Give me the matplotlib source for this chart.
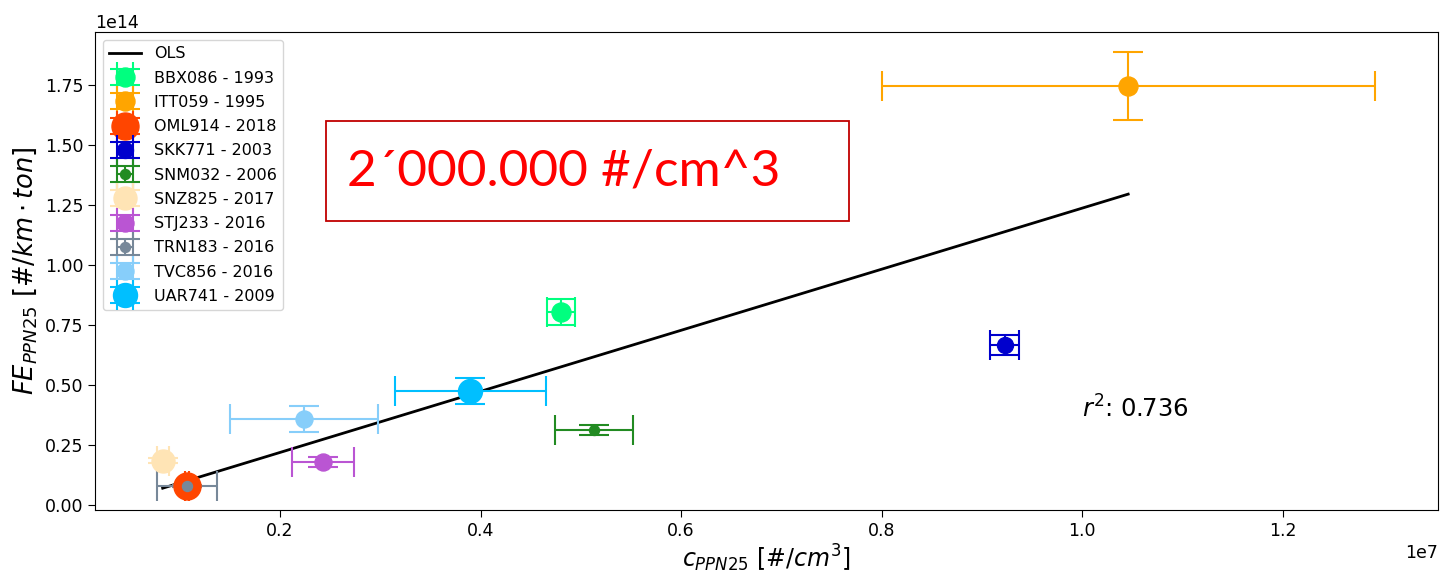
import numpy as np
import matplotlib
matplotlib.use("Agg")
import matplotlib.pyplot as plt
from matplotlib.patches import Rectangle

# ---- data ----
labels = ['BBX086 - 1993', 'ITT059 - 1995', 'OML914 - 2018', 'SKK771 - 2003',
          'SNM032 - 2006', 'SNZ825 - 2017', 'STJ233 - 2016', 'TRN183 - 2016',
          'TVC856 - 2016', 'UAR741 - 2009']
x_vals = [4.80e6, 1.046e7, 1.075e6, 9.23e6, 5.13e6, 8.3e5, 2.43e6, 1.075e6, 2.24e6, 3.90e6]
y_vals = [8.04e13, 1.745e14, 7.8e12, 6.67e13, 3.12e13, 1.85e13, 1.80e13, 7.8e12, 3.58e13, 4.75e13]
x_err = [1.4e5, 2.46e6, 2e4, 1.45e5, 3.9e5, 6e4, 3.1e5, 3.0e5, 7.35e5, 7.5e5]
y_err = [5.3e12, 1.42e13, 5e11, 4.0e12, 2.2e12, 1.0e12, 2.1e12, 5e11, 5.3e12, 5.5e12]
colors = ['springgreen', 'orange', 'orangered', 'mediumblue', 'forestgreen',
          'moccasin', 'mediumorchid', 'lightslategray', 'lightskyblue', 'deepskyblue']
r2_text = r'$r^2$: 0.736'
note_text = '2\u00b4000.000 #/cm^3'

DPI = 100
fig = plt.figure(figsize=(1445 / DPI, 573 / DPI), dpi=DPI)
ax = fig.add_axes([95 / 1445, 1 - 510 / 573, (1438 - 95) / 1445, (510 - 32) / 573])

# marker diameters in pixels -> points
marker_px = [19, 19, 27, 16, 10, 23, 17, 10, 17, 24]

x = np.array(x_vals)
y = np.array(y_vals)
coef = np.polyfit(x, y, 1)
order = np.argsort(x)
ax.plot(x[order], np.polyval(coef, x[order]), color='black', lw=2.0, label='OLS')

for i, lab in enumerate(labels):
    ax.errorbar(x_vals[i], y_vals[i], xerr=x_err[i], yerr=y_err[i], fmt='o',
                color=colors[i], ecolor=colors[i], markersize=marker_px[i] * 72 / DPI,
                capsize=11, elinewidth=1.5, capthick=1.5, label=lab)

ax.set_xlim(0.0155e7, 1.355e7)
ax.set_ylim(-0.021e14, 1.971e14)
ax.tick_params(labelsize=12.5, length=5)
ax.xaxis.get_offset_text().set_fontsize(12.5)
ax.yaxis.get_offset_text().set_fontsize(12.5)
ax.set_xlabel(r'$c_{PPN25}$ [$\#/cm^3$]', fontsize=17, labelpad=2)
ax.set_ylabel(r'$FE_{PPN25}$ [$\#/km \cdot ton$]', fontsize=18.5, labelpad=4)

ax.text(1.0e7, 0.40e14, r2_text, fontsize=17.5, va='center', ha='left')

ax.legend(loc='upper left', fontsize=11.5, borderaxespad=0.5, handlelength=2.0,
          labelspacing=0.58)

# red annotation box (figure pixel coordinates)
fig.patches.append(Rectangle((326 / 1445, 1 - 221 / 573), (849 - 326) / 1445, 100 / 573,
                             transform=fig.transFigure, fill=True, facecolor='white',
                             edgecolor='#c00000', lw=1.3, zorder=5))
fig.text(347 / 1445, 1 - 171 / 573, note_text, color='#ff0000', fontsize=37,
         family=['Lato', 'DejaVu Sans'], va='center', ha='left', zorder=6)

fig.savefig('out.png', dpi=DPI)
